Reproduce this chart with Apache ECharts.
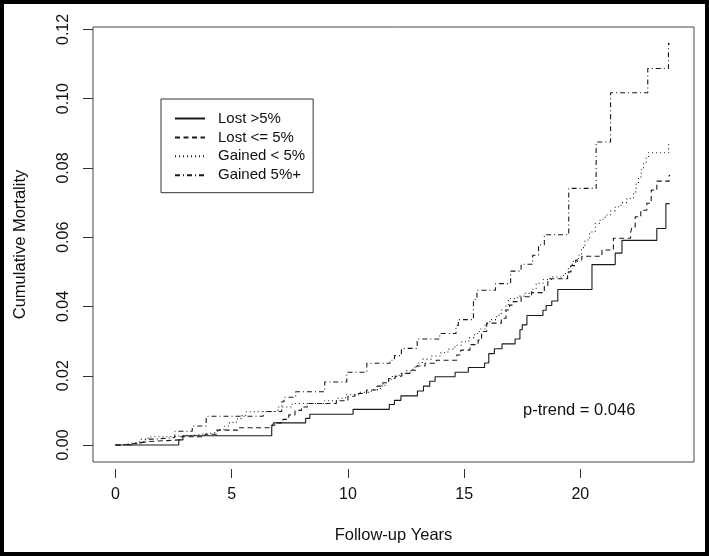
<!DOCTYPE html>
<html><head><meta charset="utf-8">
<script src="https://cdn.jsdelivr.net/npm/echarts@6/dist/echarts.min.js"></script>
<style>
html,body{margin:0;padding:0;background:#fff}
#wrap{position:relative;width:709px;height:556px}
#c{width:709px;height:556px}
#frame{position:absolute;left:0;top:0;width:709px;height:556px;box-sizing:border-box;border:4px solid #000;pointer-events:none}
</style>
</head><body>
<div id="wrap"><div id="c"></div><div id="frame"></div></div>
<script>
const seriesNames = ['Lost >5%', 'Lost <= 5%', 'Gained < 5%', 'Gained 5%+'];
const xTicks = [0, 5, 10, 15, 20];
const yTicks = [0, 0.02, 0.04, 0.06, 0.08, 0.10, 0.12];
const xTitle = 'Follow-up Years';
const yTitle = 'Cumulative Mortality';
const note = 'p-trend = 0.046';

const lostOver5 = [[0,0],[2.72,0.0015],[2.90,0.0027],[6.72,0.0052],[6.80,0.0064],[8.18,0.0077],[8.36,0.0089],[10.22,0.0103],[11.78,0.0117],[12.00,0.0129],[12.28,0.0142],[12.99,0.0156],[13.25,0.0170],[13.52,0.0184],[13.75,0.0197],[14.61,0.0210],[15.18,0.0224],[15.88,0.0237],[16.06,0.0264],[16.30,0.0278],[16.63,0.0292],[17.19,0.0306],[17.40,0.0333],[17.50,0.0347],[17.70,0.0374],[18.39,0.0389],[18.53,0.0403],[18.77,0.0416],[19.03,0.0449],[20.50,0.0521],[21.50,0.0554],[21.79,0.0591],[23.29,0.0625],[23.68,0.0697],[23.84,0.0697]];

const lostUpTo5 = [[0,0],[0.35,0.0005],[0.9,0.0010],[1.4,0.0015],[2.8,0.0024],[3.85,0.0031],[4.35,0.0043],[5.25,0.0050],[6.65,0.0057],[6.85,0.0064],[7.2,0.0074],[7.45,0.0087],[7.72,0.0100],[8.0,0.0110],[8.25,0.0120],[9.5,0.0128],[10.0,0.0141],[10.3,0.0149],[10.8,0.0159],[11.25,0.0170],[11.5,0.0180],[11.75,0.0192],[12.03,0.0199],[12.32,0.0207],[12.67,0.0216],[12.96,0.0228],[13.32,0.0236],[13.8,0.0245],[14.68,0.0260],[14.85,0.0274],[15.25,0.0290],[15.6,0.0303],[15.75,0.0328],[15.97,0.0352],[16.6,0.0366],[16.8,0.0390],[16.95,0.0404],[17.1,0.0414],[17.45,0.0428],[17.9,0.0440],[18.45,0.0460],[18.6,0.0480],[19.45,0.0500],[19.6,0.0518],[19.8,0.0534],[20.06,0.0545],[20.93,0.0563],[21.42,0.0597],[22.16,0.0613],[22.22,0.0630],[22.36,0.0659],[22.6,0.0678],[22.86,0.0698],[23.05,0.0736],[23.29,0.0762],[23.82,0.0779],[23.86,0.0779]];

const gainedUnder5 = [[0,0],[0.2,0.0005],[0.7,0.0010],[1.1,0.0017],[1.4,0.0024],[2.3,0.0028],[3.3,0.0033],[4.0,0.0037],[4.4,0.0045],[4.7,0.0055],[4.9,0.0065],[5.2,0.0075],[5.4,0.0085],[5.6,0.0096],[6.8,0.0101],[7.0,0.0110],[7.6,0.0120],[9.0,0.0128],[9.5,0.0135],[9.9,0.0145],[10.5,0.0152],[11.0,0.0160],[11.4,0.0170],[11.6,0.0180],[11.75,0.0190],[11.9,0.0198],[12.2,0.0207],[12.5,0.0214],[12.8,0.0225],[13.0,0.0237],[13.2,0.0248],[13.6,0.0257],[14.0,0.0267],[14.3,0.0277],[14.6,0.0288],[14.9,0.0298],[15.2,0.0310],[15.45,0.0322],[15.65,0.0335],[15.9,0.0350],[16.1,0.0362],[16.4,0.0375],[16.6,0.0390],[16.8,0.0405],[16.9,0.0423],[17.3,0.0430],[17.6,0.0438],[17.9,0.0450],[18.1,0.0467],[18.4,0.0478],[18.8,0.0485],[19.27,0.0495],[19.49,0.0515],[19.65,0.0530],[19.92,0.0548],[20.05,0.0570],[20.2,0.0592],[20.4,0.0615],[20.64,0.0640],[20.85,0.0652],[21.07,0.0664],[21.3,0.0676],[21.5,0.0688],[21.75,0.0700],[22.0,0.0712],[22.29,0.0731],[22.4,0.0755],[22.5,0.0774],[22.62,0.0795],[22.72,0.0813],[22.83,0.0830],[22.93,0.0844],[23.8,0.0872],[23.86,0.0872]];

const gainedOver5 = [[0,0],[0.6,0.0005],[1.0,0.0010],[1.3,0.0017],[1.7,0.0022],[2.55,0.0040],[3.3,0.0055],[3.9,0.0083],[6.35,0.0097],[7.15,0.0125],[7.25,0.0138],[7.75,0.0154],[9.0,0.0182],[9.95,0.0210],[10.81,0.0236],[11.81,0.0245],[12.0,0.0258],[12.3,0.0279],[12.98,0.0306],[13.95,0.0322],[14.65,0.0345],[14.75,0.0362],[15.4,0.0420],[15.55,0.0447],[16.35,0.0466],[17.0,0.0502],[17.45,0.0522],[17.95,0.0548],[18.2,0.0578],[18.45,0.0607],[19.5,0.0741],[20.68,0.0875],[21.3,0.1017],[22.9,0.1087],[23.79,0.1159],[23.85,0.1159]];

const seriesData = [lostOver5, lostUpTo5, gainedUnder5, gainedOver5];
const dashTypes = ['solid', [5, 3.5], [1, 3], [5, 3, 1, 3]];

const FONT = 'Liberation Sans, Arial, sans-serif';
const ink = '#1a1a1a';

const chart = echarts.init(document.getElementById('c'), null, {renderer: 'canvas'});
chart.setOption({
  animation: false,
  backgroundColor: '#fff',
  textStyle: {fontFamily: FONT},
  grid: {left: 93, right: 15, top: 27, bottom: 94, show: true, borderColor: '#444', borderWidth: 1, backgroundColor: 'transparent'},
  xAxis: {
    type: 'value', min: -0.97, max: 24.89, offset: 7,
    axisLine: {show: false, onZero: false},
    splitLine: {show: false},
    axisTick: {show: true, customValues: xTicks, length: 9, lineStyle: {color: '#333'}},
    axisLabel: {customValues: xTicks, margin: 18, fontSize: 16, color: '#111', fontFamily: FONT, formatter: v => String(v)},
    name: xTitle, nameLocation: 'middle', nameGap: 58,
    nameTextStyle: {fontSize: 16.5, color: '#111', fontFamily: FONT}
  },
  yAxis: {
    type: 'value', min: -0.0049, max: 0.1207,
    axisLine: {show: false, onZero: false},
    splitLine: {show: false},
    axisTick: {show: true, customValues: yTicks, length: 10, lineStyle: {color: '#333'}},
    axisLabel: {customValues: yTicks, rotate: 90, margin: 21, fontSize: 16, color: '#111', fontFamily: FONT, formatter: v => v.toFixed(2)},
    name: yTitle, nameLocation: 'middle', nameGap: 64, nameRotate: 90,
    nameTextStyle: {fontSize: 16.5, color: '#111', fontFamily: FONT}
  },
  legend: {
    show: true, orient: 'vertical', left: 161, top: 99,
    padding: [12, 8, 10, 13], itemGap: 3.9, itemWidth: 30, itemHeight: 14,
    borderColor: '#333', borderWidth: 1, backgroundColor: '#fff',
    itemStyle: {opacity: 0},
    data: seriesNames,
    textStyle: {fontSize: 15, color: '#111', fontFamily: FONT, padding: [0, 0, 0, 8]}
  },
  graphic: [{
    type: 'text', left: 523, top: 402,
    style: {text: note, fontSize: 16.5, fontFamily: FONT, fill: '#111'}
  }],
  series: seriesNames.map((n, i) => ({
    name: n, type: 'line', step: 'end', data: seriesData[i],
    symbol: 'none', showSymbol: false,
    lineStyle: {color: ink, width: 1.1, type: dashTypes[i]},
    itemStyle: {color: ink}
  }))
});
</script>
</body></html>
